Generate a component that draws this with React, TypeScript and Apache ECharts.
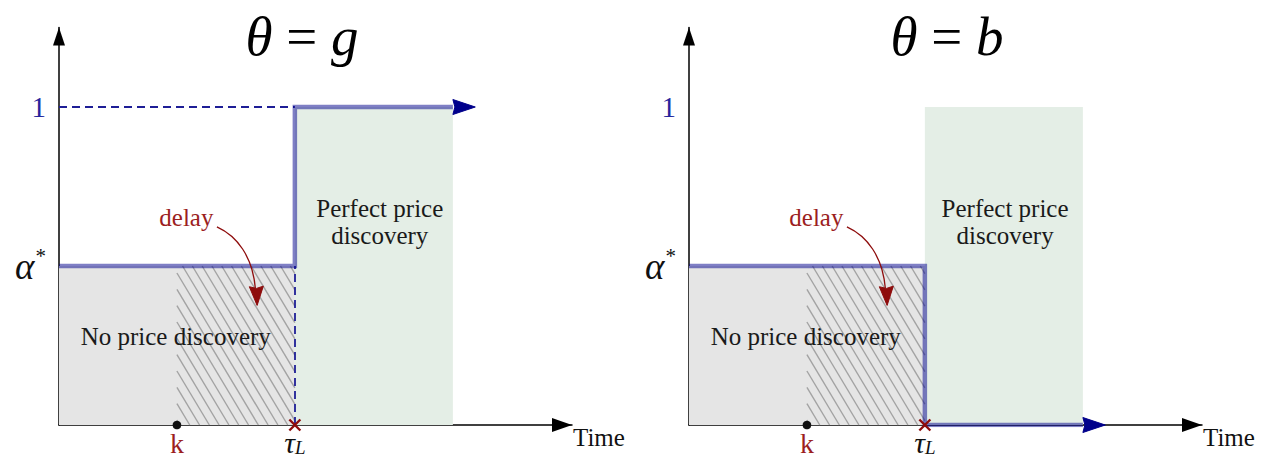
import React, { useEffect, useRef } from 'react';
import * as echarts from 'echarts';

const SERIF = "'Liberation Serif', 'DejaVu Serif', serif";

// Time axis marks
const K = 1;
const TAU_L = 2;
const DISCOVERY_END = 3.34;
const PATH_END = 3.53;
const X_MAX = 4.35;

// Informativeness levels
const ALPHA_STAR = 0.5;
const FULL = 1;
const Y_MAX = 1.25;

// One panel per state of the world
const STATES = ['g', 'b'];

// Informativeness over time in each state
const PATH_GOOD = [[0, ALPHA_STAR], [TAU_L, ALPHA_STAR], [TAU_L, FULL], [DISCOVERY_END, FULL]];
const PATH_BAD = [[0, ALPHA_STAR], [TAU_L, ALPHA_STAR], [TAU_L, 0], [DISCOVERY_END, 0]];
const PATHS = [PATH_GOOD, PATH_BAD];

// Regions as [x0, y0, x1, y1]
const NO_DISCOVERY = [0, 0, TAU_L, ALPHA_STAR];
const DELAY_ZONE = [K, 0, TAU_L, ALPHA_STAR];
const PERFECT = [TAU_L, 0, DISCOVERY_END, FULL];

// Dashed guides (good state only)
const GUIDES_GOOD = [
  [[0, FULL], [TAU_L, FULL]],
  [[TAU_L, 0], [TAU_L, ALPHA_STAR]],
];

// Layout
const ORIGIN_X = [59, 689];
const TITLE_X = [297, 942];
const GRID_TOP = 27.5;
const GRID_H = 397.5;
const GRID_W = 513;

const NAVY = '#00008b';
const DARK_RED = '#8e0c0c';
const TEXT_RED = '#9c1f1f';

function arrowHead(base: number[], tip: number[], hw: number, fill: string) {
  const dx = tip[0] - base[0];
  const dy = tip[1] - base[1];
  const len = Math.hypot(dx, dy) || 1;
  const nx = -dy / len;
  const ny = dx / len;
  const ux = dx / len;
  const uy = dy / len;
  return {
    type: 'polygon',
    shape: {
      points: [
        tip,
        [base[0] + nx * hw, base[1] + ny * hw],
        [base[0] + ux * 2, base[1] + uy * 2],
        [base[0] - nx * hw, base[1] - ny * hw],
      ],
    },
    style: { fill, stroke: fill, lineWidth: 1, lineJoin: 'round' },
  };
}

function regionSeries(p: number) {
  return {
    type: 'custom',
    xAxisIndex: p,
    yAxisIndex: p,
    z: 1,
    silent: true,
    clip: false,
    data: [[0, 0]],
    renderItem: (_params: any, api: any) => {
      const rect = (r: number[], fill: string) => {
        const a = api.coord([r[0], r[3]]);
        const b = api.coord([r[2], r[1]]);
        return {
          type: 'rect',
          shape: { x: a[0], y: a[1], width: b[0] - a[0], height: b[1] - a[1] },
          style: { fill },
        };
      };
      const children: any[] = [rect(NO_DISCOVERY, '#e5e5e5'), rect(PERFECT, '#e4eee6')];
      // diagonal hatching over the delay interval
      const a = api.coord([DELAY_ZONE[0], DELAY_ZONE[3]]);
      const b = api.coord([DELAY_ZONE[2], DELAY_ZONE[1]]);
      const L = a[0], T = a[1], R = b[0], B = b[1];
      const s = 0.6;
      const gap = 9.8;
      for (let c = L - s * (B - T) + 3; c < R; c += gap) {
        const y0 = Math.max(T, T + (L - c) / s);
        const y1 = Math.min(B, T + (R - c) / s);
        if (y1 - y0 > 0.5) {
          children.push({
            type: 'line',
            shape: { x1: c + s * (y0 - T), y1: y0, x2: c + s * (y1 - T), y2: y1 },
            style: { stroke: '#a3a3a3', lineWidth: 1.4 },
          });
        }
      }
      return { type: 'group', children };
    },
  };
}

function annotationSeries(p: number) {
  return {
    type: 'custom',
    xAxisIndex: p,
    yAxisIndex: p,
    z: 10,
    silent: true,
    clip: false,
    data: [[0, 0]],
    renderItem: (_params: any, api: any) => {
      const path = PATHS[p];
      const last = path[path.length - 1];
      const base = api.coord(last);
      const tip = api.coord([PATH_END, last[1]]);
      const children: any[] = [];

      // region captions
      const nd = api.coord([0.99, 0.277]);
      children.push({
        type: 'text',
        x: nd[0],
        y: nd[1],
        style: {
          text: 'No price discovery',
          font: `25px ${SERIF}`,
          fill: '#1a1a1a',
          align: 'center',
          verticalAlign: 'middle',
        },
      });
      const pf = api.coord([p === 0 ? 2.72 : 2.68, 0.638]);
      children.push({
        type: 'text',
        x: pf[0],
        y: pf[1],
        style: {
          text: 'Perfect price\ndiscovery',
          font: `25px ${SERIF}`,
          lineHeight: 27,
          fill: '#1a1a1a',
          align: 'center',
          verticalAlign: 'middle',
        },
      });

      // "delay" callout with a curved arrow
      const dl = api.coord([1.08, 0.652]);
      children.push({
        type: 'text',
        x: dl[0],
        y: dl[1],
        style: {
          text: 'delay',
          font: `25px ${SERIF}`,
          fill: TEXT_RED,
          align: 'center',
          verticalAlign: 'middle',
        },
      });
      const c0 = api.coord([1.339, 0.623]);
      const c1 = api.coord([1.51, 0.594]);
      const c2 = api.coord([1.64, 0.531]);
      const c3 = api.coord([1.665, 0.43]);
      children.push({
        type: 'bezierCurve',
        shape: {
          x1: c0[0], y1: c0[1],
          cpx1: c1[0], cpy1: c1[1],
          cpx2: c2[0], cpy2: c2[1],
          x2: c3[0], y2: c3[1],
        },
        style: { stroke: DARK_RED, lineWidth: 1.3, fill: null },
      });
      const dtip = api.coord([1.68, 0.376]);
      children.push(arrowHead([dtip[0] - 0.8, dtip[1] - 19], dtip, 7, DARK_RED));

      // arrowhead at the end of the informativeness path
      children.push(arrowHead(base, tip, 7.5, NAVY));

      // k marker
      const kp = api.coord([K, 0]);
      children.push({
        type: 'circle',
        shape: { cx: kp[0], cy: kp[1], r: 4.3 },
        style: { fill: '#111' },
      });

      // cross at tau_L
      const tp = api.coord([TAU_L, 0]);
      const d = 5.5;
      children.push({
        type: 'line',
        shape: { x1: tp[0] - d, y1: tp[1] - d, x2: tp[0] + d, y2: tp[1] + d },
        style: { stroke: DARK_RED, lineWidth: 2.4 },
      });
      children.push({
        type: 'line',
        shape: { x1: tp[0] - d, y1: tp[1] + d, x2: tp[0] + d, y2: tp[1] - d },
        style: { stroke: DARK_RED, lineWidth: 2.4 },
      });

      return { type: 'group', children };
    },
  };
}

function buildOption() {
  const grids: any[] = [];
  const xAxes: any[] = [];
  const yAxes: any[] = [];
  const series: any[] = [];
  const titles: any[] = [];

  STATES.forEach((state, p) => {
    grids.push({
      left: ORIGIN_X[p],
      top: GRID_TOP,
      width: GRID_W,
      height: GRID_H,
      containLabel: false,
      outerBoundsMode: 'none',
    });

    titles.push({
      text: `{i|θ}{e| = }{i|${state}}`,
      left: TITLE_X[p],
      top: 4,
      textAlign: 'center',
      textStyle: {
        fontFamily: SERIF,
        fontSize: 55,
        fontWeight: 'normal',
        color: '#000',
        rich: {
          i: { fontFamily: SERIF, fontSize: 55, fontStyle: 'italic', color: '#000' },
          e: { fontFamily: SERIF, fontSize: 55, color: '#000' },
        },
      },
    });

    xAxes.push({
      gridIndex: p,
      type: 'value',
      min: 0,
      max: X_MAX,
      name: 'Time',
      nameLocation: 'end',
      nameGap: 1,
      nameTextStyle: {
        fontFamily: SERIF,
        fontSize: 25,
        color: '#111',
        align: 'left',
        verticalAlign: 'top',
        padding: [0, 0, 0, 0],
      },
      axisLine: {
        show: true,
        lineStyle: { color: '#000', width: 1.5 },
        symbol: ['none', 'triangle'],
        symbolSize: [14, 20],
        symbolOffset: [0, -10],
      },
      axisTick: { show: false },
      splitLine: { show: false },
      axisLabel: {
        customValues: [K, TAU_L],
        margin: 4,
        formatter: (v: number) => (v === K ? '{k|k}' : '{t|τ}{s|L}'),
        rich: {
          k: { fontFamily: SERIF, fontSize: 28, color: TEXT_RED, lineHeight: 28 },
          t: { fontFamily: SERIF, fontSize: 30, fontStyle: 'italic', color: '#111', lineHeight: 26, verticalAlign: 'middle' },
          s: { fontFamily: SERIF, fontSize: 19, fontStyle: 'italic', color: '#111', lineHeight: 16, padding: [10, 0, 0, 0], verticalAlign: 'middle' },
        },
      },
    });

    yAxes.push({
      gridIndex: p,
      type: 'value',
      min: 0,
      max: Y_MAX,
      axisLine: {
        show: true,
        lineStyle: { color: '#000', width: 1.5 },
        symbol: ['none', 'triangle'],
        symbolSize: [12, 18],
        symbolOffset: [0, -9],
      },
      axisTick: { show: false },
      splitLine: { show: false },
      axisLabel: {
        customValues: [ALPHA_STAR, FULL],
        margin: 13,
        formatter: (v: number) => (v === FULL ? '{one|1}' : '{a|α}{s|*}'),
        rich: {
          one: { fontFamily: SERIF, fontSize: 29, color: '#25259c' },
          a: { fontFamily: SERIF, fontSize: 37, fontStyle: 'italic', color: '#111', lineHeight: 34, verticalAlign: 'middle' },
          s: { fontFamily: SERIF, fontSize: 21, color: '#111', lineHeight: 18, padding: [0, 0, 20, 1], verticalAlign: 'middle' },
        },
      },
    });

    series.push(regionSeries(p));

    if (p === 0) {
      series.push({
        type: 'lines',
        coordinateSystem: 'cartesian2d',
        xAxisIndex: p,
        yAxisIndex: p,
        z: 3,
        silent: true,
        symbol: ['none', 'none'],
        lineStyle: { color: '#1e1e96', width: 1.8, type: [8, 5], opacity: 1 },
        data: GUIDES_GOOD.map((coords) => ({ coords })),
      });
    }

    series.push({
      type: 'line',
      xAxisIndex: p,
      yAxisIndex: p,
      z: 5,
      silent: true,
      showSymbol: false,
      symbol: 'none',
      data: PATHS[p],
      lineStyle: { color: NAVY, opacity: 0.5, width: 4.5, cap: 'butt', join: 'miter' },
    });

    series.push(annotationSeries(p));
  });

  return {
    animation: false,
    backgroundColor: '#ffffff',
    title: titles,
    grid: grids,
    xAxis: xAxes,
    yAxis: yAxes,
    series,
  };
}

export default function App() {
  const ref = useRef<HTMLDivElement>(null);
  useEffect(() => {
    const chart = echarts.init(ref.current as HTMLDivElement, null, { renderer: 'svg' });
    chart.setOption(buildOption() as any);
    return () => chart.dispose();
  }, []);
  return (
    <div
      ref={ref}
      style={{ position: 'fixed', left: 0, top: 0, width: 1270, height: 459, background: '#fff' }}
    />
  );
}
